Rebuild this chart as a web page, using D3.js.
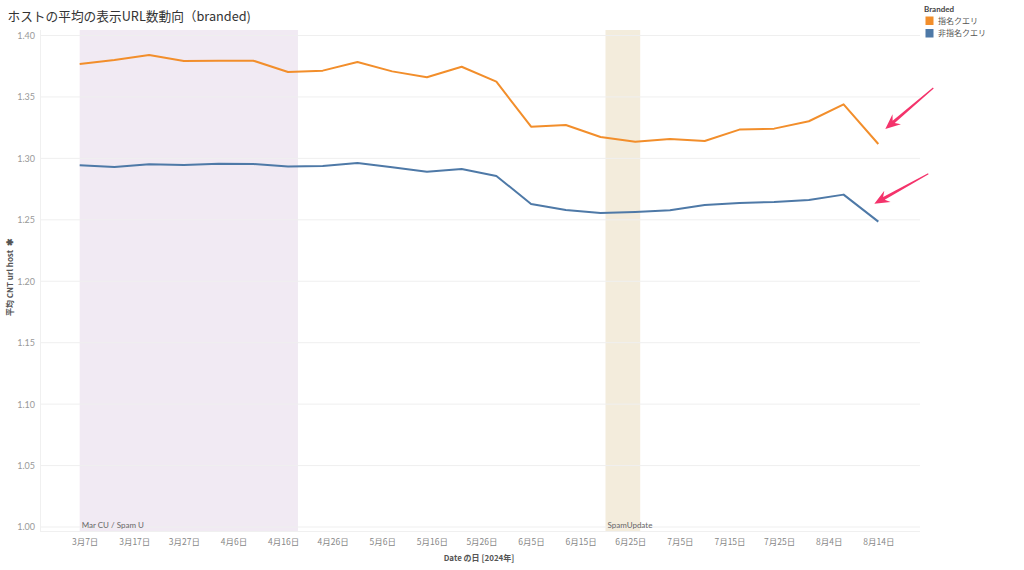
<!DOCTYPE html>
<html><head><meta charset="utf-8">
<script src="https://cdn.jsdelivr.net/npm/d3@7/dist/d3.min.js"></script>
<style>
html,body{margin:0;padding:0;background:#fff;}
svg{display:block;font-family:Lato,"Noto Sans CJK JP",sans-serif;}
</style></head><body>
<svg id="chart" width="1024" height="570"></svg>
<script>
// ---- data ----
const dates = ["2024-03-06","2024-03-13","2024-03-20","2024-03-27","2024-04-03","2024-04-10","2024-04-17","2024-04-24",
  "2024-05-01","2024-05-08","2024-05-15","2024-05-22","2024-05-29","2024-06-05","2024-06-12","2024-06-19",
  "2024-06-26","2024-07-03","2024-07-10","2024-07-17","2024-07-24","2024-07-31","2024-08-07","2024-08-14"];
const branded = [1.3768,1.3801,1.3841,1.3793,1.3795,1.3795,1.3703,1.3714,1.3784,1.3708,1.3660,1.3746,1.3624,
  1.3258,1.3272,1.3174,1.3136,1.3158,1.3142,1.3234,1.3242,1.3302,1.3440,1.3117];
const nonBranded = [1.2944,1.2930,1.2952,1.2946,1.2957,1.2954,1.2933,1.2938,1.2963,1.2928,1.2892,1.2914,1.2857,
  1.2629,1.2580,1.2556,1.2564,1.2578,1.2621,1.2637,1.2645,1.2661,1.2705,1.2485];
const seriesNames = ["指名クエリ","非指名クエリ"];
const seriesColors = ["#f28e2b","#4e79a7"];
const tickDates = ["2024-03-07","2024-03-17","2024-03-27","2024-04-06","2024-04-16","2024-04-26","2024-05-06",
  "2024-05-16","2024-05-26","2024-06-05","2024-06-15","2024-06-25","2024-07-05","2024-07-15","2024-07-25",
  "2024-08-04","2024-08-14"];
const yTicks = [1.00,1.05,1.10,1.15,1.20,1.25,1.30,1.35,1.40];
const bands = [
  {start:"2024-03-06", end:"2024-04-19", label:"Mar CU / Spam U", color:"#f1eaf3"},
  {start:"2024-06-20", end:"2024-06-27", label:"SpamUpdate", color:"#f3ecdc"}
];
const title = "ホストの平均の表示URL数動向（branded)";
const yTitle = "平均 CNT url host";
const xTitle = "Date の日 [2024年]";
const legendTitle = "Branded";

// ---- setup ----
const svg = d3.select("#chart");
const parse = d3.utcParse("%Y-%m-%d");
const x = d3.scaleUtc().domain([parse("2024-02-27"), parse("2024-08-22")]).range([40, 918]);
const y = d3.scaleLinear().domain([1.0, 1.4]).range([527, 35.5]);
const plotTop = 30, plotBottom = 531;

// bands
bands.forEach(b => {
  const x0 = x(parse(b.start)), x1 = x(parse(b.end));
  svg.append("rect").attr("x", x0).attr("y", plotTop).attr("width", x1 - x0)
    .attr("height", plotBottom - plotTop).attr("fill", b.color);
});

// grid
svg.append("g").selectAll("line").data(yTicks).join("line")
  .attr("x1", 40).attr("x2", 920).attr("y1", d => y(d)).attr("y2", d => y(d))
  .attr("stroke", "#efefef").attr("stroke-width", 1);
svg.append("line").attr("x1", 40.5).attr("x2", 40.5).attr("y1", plotTop).attr("y2", plotBottom)
  .attr("stroke", "#f0f0f0");
svg.append("line").attr("x1", 40).attr("x2", 920).attr("y1", plotBottom + 0.5).attr("y2", plotBottom + 0.5)
  .attr("stroke", "#f0f0f0");

// band labels
bands.forEach(b => {
  svg.append("text").attr("x", x(parse(b.start)) + 2).attr("y", 528)
    .attr("font-size", 8).attr("fill", "#666").text(b.label);
});

// y axis
const yAxis = d3.axisLeft(y).tickValues(yTicks).tickFormat(d3.format(".2f")).tickSize(0).tickPadding(5);
const gy = svg.append("g").attr("transform", "translate(40,0)").call(yAxis);
gy.select(".domain").remove();
gy.selectAll("text").attr("font-size", 9).attr("fill", "#999").attr("font-family", "Lato,sans-serif");

// x axis
const xAxis = d3.axisBottom(x).tickValues(tickDates.map(parse))
  .tickFormat(d => (d.getUTCMonth() + 1) + "月" + d.getUTCDate() + "日").tickSize(0).tickPadding(8);
const gx = svg.append("g").attr("transform", `translate(0,${plotBottom})`).call(xAxis);
gx.select(".domain").remove();
gx.selectAll("text").attr("font-size", 8.5).attr("fill", "#888").attr("font-family", "'Noto Sans CJK JP',sans-serif");

// lines
const line = d3.line().x((d, i) => x(parse(dates[i]))).y(d => y(d));
[branded, nonBranded].forEach((s, k) => {
  svg.append("path").datum(s).attr("d", line).attr("fill", "none")
    .attr("stroke", seriesColors[k]).attr("stroke-width", 2).attr("stroke-linejoin", "round");
});

// titles
svg.append("text").attr("x", 7.5).attr("y", 21).attr("font-size", 12.7).attr("fill", "#333")
  .attr("font-family", "'Noto Sans CJK JP',sans-serif").text(title);
svg.append("text").attr("x", 479).attr("y", 561).attr("text-anchor", "middle").attr("font-size", 8)
  .attr("font-weight", "bold").attr("fill", "#555").attr("font-family", "'Noto Sans CJK JP',sans-serif").text(xTitle);
const yt = svg.append("text").attr("transform", "translate(13,277) rotate(-90)").attr("text-anchor", "middle")
  .attr("font-size", 8).attr("font-weight", "bold").attr("fill", "#555")
  .attr("font-family", "'Noto Sans CJK JP',sans-serif");
yt.append("tspan").text(yTitle);
yt.append("tspan").attr("dx", 4).attr("font-size", 9).text("✱");

// legend
svg.append("text").attr("x", 924).attr("y", 12).attr("font-size", 8).attr("font-weight", "bold")
  .attr("fill", "#444").text(legendTitle);
seriesNames.forEach((n, i) => {
  const yy = 16.5 + i * 12.5;
  svg.append("rect").attr("x", 925.5).attr("y", yy).attr("width", 8).attr("height", 8.5).attr("fill", seriesColors[i]);
  svg.append("text").attr("x", 938).attr("y", yy + 7.3).attr("font-size", 8).attr("fill", "#555")
    .attr("font-family", "'Noto Sans CJK JP',sans-serif").text(n);
});

// annotation arrows (pointing at the last data points)
function arrow(tip, tail) {
  const dx = tail[0] - tip[0], dy = tail[1] - tip[1];
  const len = Math.hypot(dx, dy), ux = dx / len, uy = dy / len, nx = -uy, ny = ux;
  const L = 15, W = 6.5, N = 11, w = 1.6, t = 0.6;
  const p = (a, b) => [tip[0] + ux * a + nx * b, tip[1] + uy * a + ny * b];
  const pts = [p(0, 0), p(L, W), p(N, w), p(len, t), p(len, -t), p(N, -w), p(L, -W)];
  svg.append("path").attr("d", "M" + pts.map(q => q.join(",")).join("L") + "Z").attr("fill", "#f4336b");
}
const lastDate = parse(dates[dates.length - 1]);
arrow([x(lastDate) + 7, y(branded[branded.length - 1]) - 15], [x(lastDate) + 55, y(branded[branded.length - 1]) - 56]);
arrow([x(lastDate) - 4, y(nonBranded[nonBranded.length - 1]) - 18], [x(lastDate) + 50, y(nonBranded[nonBranded.length - 1]) - 48]);
</script>
</body></html>
